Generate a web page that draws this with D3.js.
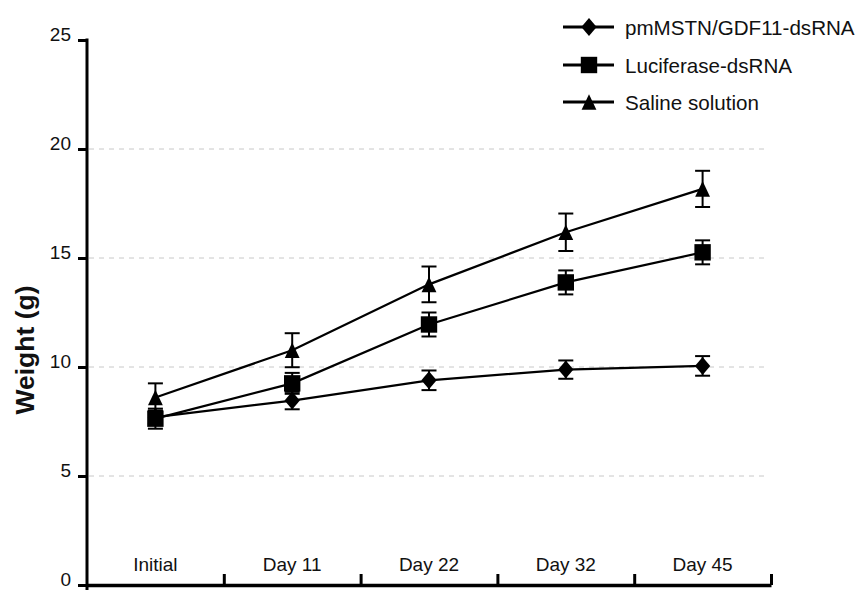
<!DOCTYPE html>
<html>
<head>
<meta charset="utf-8">
<script src="https://cdn.jsdelivr.net/npm/d3@7"></script>
<style>
  body { margin: 0; background: #fff; }
  text { font-family: "Liberation Sans", Arial, sans-serif; fill: #111; }
</style>
</head>
<body>
<div id="chart"></div>
<script>
// data
const days = ["Initial", "Day 11", "Day 22", "Day 32", "Day 45"];
const seriesNames = ["pmMSTN/GDF11-dsRNA", "Luciferase-dsRNA", "Saline solution"];
const mstnMean = [7.7, 8.46, 9.39, 9.88, 10.05];
const mstnErr = [0.3, 0.4, 0.45, 0.42, 0.45];
const lucMean = [7.63, 9.25, 11.95, 13.88, 15.26];
const lucErr = [0.46, 0.48, 0.55, 0.55, 0.55];
const salMean = [8.6, 10.77, 13.79, 16.18, 18.17];
const salErr = [0.65, 0.78, 0.82, 0.86, 0.83];
const yTicks = [0, 5, 10, 15, 20, 25];

const width = 863, height = 590;
const plotLeft = 87, plotRight = 771, plotTop = 40, plotBottom = 585;

const svg = d3.select('#chart')
    .append('svg')
    .attr('width', width)
    .attr('height', height);

const x = d3.scaleBand().domain(days).range([plotLeft, plotRight]);
const y = d3.scaleLinear().domain([0, 25]).range([plotBottom, plotTop]);

// marker shapes a bit taller than d3's defaults; size = half height
const diamond = {
    draw(ctx, s) {
        const w = s * 0.85;
        ctx.moveTo(0, -s); ctx.lineTo(w, 0); ctx.lineTo(0, s); ctx.lineTo(-w, 0); ctx.closePath();
    }
};
const square = {
    draw(ctx, s) { ctx.rect(-s, -s, 2 * s, 2 * s); }
};
const triangle = {
    draw(ctx, s) {
        const w = s * 0.95;
        ctx.moveTo(0, -s); ctx.lineTo(w, s); ctx.lineTo(-w, s); ctx.closePath();
    }
};

const series = [
    { name: seriesNames[0], mean: mstnMean, err: mstnErr, symbol: diamond, size: 9 },
    { name: seriesNames[1], mean: lucMean, err: lucErr, symbol: square, size: 8.2 },
    { name: seriesNames[2], mean: salMean, err: salErr, symbol: triangle, size: 7.8 }
];

// grid lines
svg.append('g')
    .selectAll('line')
    .data(yTicks.filter(d => d > 0 && d < 25))
    .enter()
    .append('line')
    .attr('x1', plotLeft + 2)
    .attr('x2', plotRight - 6)
    .attr('y1', d => y(d))
    .attr('y2', d => y(d))
    .attr('stroke', '#c8c8c8')
    .attr('stroke-width', 1)
    .attr('stroke-dasharray', '5,5');

// y axis
const yAxis = svg.append('g')
    .attr('transform', 'translate(' + plotLeft + ',0)')
    .call(d3.axisLeft(y).tickValues(yTicks).tickSize(9).tickSizeOuter(0).tickPadding(7));
yAxis.select('.domain').remove();
yAxis.selectAll('line').attr('stroke', '#000').attr('stroke-width', 3);
yAxis.selectAll('text').style('font-size', '19px').attr('dy', '0.02em');
svg.append('line')
    .attr('x1', plotLeft).attr('x2', plotLeft)
    .attr('y1', plotTop - 1.5).attr('y2', plotBottom + 5)
    .attr('stroke', '#000').attr('stroke-width', 3);

// x axis: ticks sit at the band boundaries
const xEdge = d3.scaleLinear().domain([0, days.length]).range([plotLeft, plotRight]);
const xAxis = svg.append('g')
    .attr('transform', 'translate(0,' + plotBottom + ')')
    .call(d3.axisBottom(xEdge).tickValues(d3.range(1, days.length + 1)).tickSize(-11).tickSizeOuter(0).tickFormat(''));
xAxis.select('.domain').attr('stroke', '#000').attr('stroke-width', 3.5);
xAxis.selectAll('line').attr('stroke', '#000').attr('stroke-width', 3);

svg.append('g')
    .selectAll('text')
    .data(days)
    .enter()
    .append('text')
    .attr('x', d => x(d) + x.bandwidth() / 2)
    .attr('y', 571)
    .attr('text-anchor', 'middle')
    .style('font-size', '19px')
    .text(d => d);

// y title
svg.append('text')
    .attr('transform', 'translate(34,' + 350 + ') rotate(-90)')
    .attr('text-anchor', 'middle')
    .style('font-size', '26.5px')
    .style('font-weight', 'bold')
    .text('Weight (g)');

const line = d3.line()
    .x((d, i) => x(days[i]) + x.bandwidth() / 2)
    .y(d => y(d));

series.forEach(s => {
    const g = svg.append('g');
    const pts = s.mean.map((m, i) => ({ day: days[i], m: m, e: s.err[i] }));

    g.append('path')
        .datum(s.mean)
        .attr('d', line)
        .attr('fill', 'none')
        .attr('stroke', '#000')
        .attr('stroke-width', 2.2);

    // error bars
    const eb = g.selectAll('.eb')
        .data(pts)
        .enter()
        .append('g')
        .attr('transform', d => 'translate(' + (x(d.day) + x.bandwidth() / 2) + ',0)');
    eb.append('line')
        .attr('y1', d => y(d.m + d.e)).attr('y2', d => y(d.m - d.e))
        .attr('stroke', '#000').attr('stroke-width', 2);
    eb.append('line')
        .attr('x1', -7.5).attr('x2', 7.5)
        .attr('y1', d => y(d.m + d.e)).attr('y2', d => y(d.m + d.e))
        .attr('stroke', '#000').attr('stroke-width', 2);
    eb.append('line')
        .attr('x1', -7.5).attr('x2', 7.5)
        .attr('y1', d => y(d.m - d.e)).attr('y2', d => y(d.m - d.e))
        .attr('stroke', '#000').attr('stroke-width', 2);

    g.selectAll('.mk')
        .data(pts)
        .enter()
        .append('path')
        .attr('d', d3.symbol().type(s.symbol).size(s.size))
        .attr('transform', d => 'translate(' + (x(d.day) + x.bandwidth() / 2) + ',' + y(d.m) + ')')
        .attr('fill', '#000');
});

// legend
const legend = svg.append('g')
    .selectAll('g')
    .data(series)
    .enter()
    .append('g')
    .attr('transform', (d, i) => 'translate(563,' + [27, 65, 102][i] + ')');
legend.append('line')
    .attr('x1', 0).attr('x2', 51)
    .attr('stroke', '#000').attr('stroke-width', 3);
legend.append('path')
    .attr('d', d => d3.symbol().type(d.symbol).size(d.size)())
    .attr('transform', 'translate(26,0)')
    .attr('fill', '#000');
legend.append('text')
    .attr('x', 62)
    .attr('y', 7.5)
    .style('font-size', '20.6px')
    .text(d => d.name);
</script>
</body>
</html>
